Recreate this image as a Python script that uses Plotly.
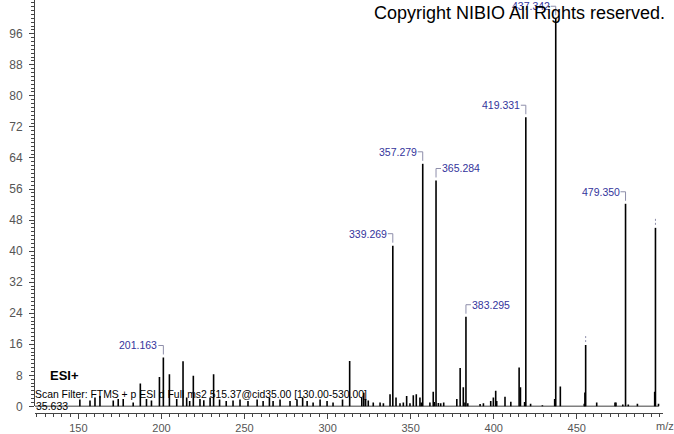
import plotly.graph_objects as go

# ---- data (m/z, relative intensity %) ----
mz = [150.9, 157.0, 160.0, 163.0, 171.0, 174.0, 177.0, 183.0, 187.3, 191.0, 194.0,
      198.8, 201.163, 204.8, 209.2, 213.0, 215.2, 217.0, 219.2, 223.2, 225.5, 229.3,
      231.4, 235.0, 239.0, 243.1, 247.3, 252.1, 257.6, 261.2, 265.0, 267.2, 271.4,
      277.4, 281.6, 285.0, 287.7, 291.3, 295.5, 299.7, 303.3, 309.0, 313.3, 320.6,
      321.8, 322.9, 324.5, 327.5, 331.6, 333.6, 337.6, 339.269, 341.2, 343.6, 345.6,
      347.6, 349.6, 351.6, 353.4, 355.6, 356.4, 357.279, 361.6, 363.6, 364.2, 365.284,
      366.7, 368.1, 369.9, 377.8, 379.8, 381.7, 382.7, 383.295, 384.4, 391.8, 393.8,
      398.2, 399.8, 401.2, 401.8, 406.8, 410.3, 415.3, 416.1, 418.6, 419.331, 422.2,
      429.3, 436.7, 437.342, 440.1, 454.5, 454.9, 455.35, 462.0, 473.0, 473.6, 477.7,
      479.350, 481.0, 486.5, 496.9, 497.36, 499.2]
intensity = [1.8, 1.5, 2.3, 2.7, 1.5, 1.9, 1.9, 1.0, 5.9, 1.9, 1.5,
             7.6, 12.6, 8.3, 1.9, 11.6, 2.3, 1.4, 7.9, 1.9, 1.6, 2.3,
             8.3, 1.8, 1.4, 1.5, 1.8, 1.4, 1.8, 1.4, 2.3, 1.4, 1.8,
             1.4, 1.8, 2.3, 1.4, 1.0, 1.8, 1.4, 1.0, 1.8, 11.7, 2.3,
             3.5, 1.9, 1.5, 1.0, 1.0, 0.8, 3.1, 41.4, 2.3, 0.8, 1.0,
             2.7, 0.8, 2.9, 3.1, 2.3, 1.0, 62.5, 1.0, 3.8, 1.1, 58.2,
             0.9, 0.8, 1.0, 1.9, 9.9, 4.9, 1.0, 23.1, 0.8, 0.6, 0.8,
             1.4, 2.3, 4.0, 1.4, 2.5, 1.2, 10.0, 4.9, 1.1, 74.5, 0.7,
             0.3, 1.9, 100.0, 5.1, 0.7, 3.6, 15.8, 1.0, 1.0, 1.0, 0.5,
             52.2, 0.5, 0.7, 3.8, 46.0, 0.7]

labeled_mz = [201.163, 339.269, 357.279, 365.284, 383.295, 419.331, 437.342, 479.350]
label_side = ["left", "left", "left", "right", "right", "left", "left", "left"]
flag_mz = [455.35, 497.36]

x_ticks = [150, 200, 250, 300, 350, 400, 450]
y_ticks = [0, 8, 16, 24, 32, 40, 48, 56, 64, 72, 80, 88, 96]

x_range = [123.9, 501.9]
y_range = [0, 104.7]

height_of = dict(zip(mz, intensity))

# stick spectrum built from the data
xs, ys = [], []
for m, h in zip(mz, intensity):
    xs += [m, m, None]
    ys += [0, h, None]

fig = go.Figure()
fig.add_trace(go.Scatter(x=xs, y=ys, mode="lines",
                         line=dict(color="black", width=1.6),
                         hoverinfo="skip", cliponaxis=True))

shapes = []
annotations = []
LABEL_BLUE = "#34349c"
BRACKET = "#8e8eaa"

# baseline
shapes.append(dict(type="line", xref="x", yref="y", x0=x_range[0], x1=499.3, y0=0, y1=0,
                   line=dict(color="black", width=1.5)))

for m, side in zip(labeled_mz, label_side):
    h = height_of[m]
    if side == "left":
        hx0, hx1 = -5, 0
        xanchor, xshift = "right", -4
    else:
        hx0, hx1 = 0, 5
        xanchor, xshift = "left", 4
    shapes.append(dict(type="line", xref="x", yref="y",
                       xsizemode="pixel", xanchor=m, x0=hx0, x1=hx1,
                       ysizemode="pixel", yanchor=h, y0=12, y1=12,
                       line=dict(color=BRACKET, width=1)))
    shapes.append(dict(type="line", xref="x", yref="y",
                       xsizemode="pixel", xanchor=m, x0=0, x1=0,
                       ysizemode="pixel", yanchor=h, y0=12, y1=3,
                       line=dict(color=BRACKET, width=1)))
    annotations.append(dict(x=m, y=h, xref="x", yref="y", text=f"{m:.3f}",
                            showarrow=False, xanchor=xanchor, yanchor="middle",
                            xshift=xshift, yshift=12,
                            font=dict(family="Arial, Liberation Sans", size=10.5, color=LABEL_BLUE)))

for m in flag_mz:
    h = height_of[m]
    shapes.append(dict(type="line", xref="x", yref="y",
                       xsizemode="pixel", xanchor=m, x0=0, x1=0,
                       ysizemode="pixel", yanchor=h, y0=3, y1=10,
                       line=dict(color=BRACKET, width=1, dash="2px,2px")))

FONT = "Arial, Liberation Sans"
annotations += [
    dict(xref="paper", yref="paper", x=1.0064, y=0.9687, xanchor="right", yanchor="middle",
         text="Copyright NIBIO All Rights reserved.", showarrow=False,
         font=dict(family=FONT, size=18, color="black")),
    dict(xref="paper", yref="paper", x=0.0202, y=0.0916, xanchor="left", yanchor="middle",
         text="<b>ESI+</b>", showarrow=False, font=dict(family=FONT, size=13, color="black")),
    dict(xref="paper", yref="paper", x=0.0, y=0.0441, xanchor="left", yanchor="middle",
         xshift=-2, text="Scan Filter: FTMS + p ESI d Full ms2 515.37@cid35.00 [130.00-530.00]",
         showarrow=False, font=dict(family=FONT, size=10.4, color="black")),
    dict(xref="paper", yref="paper", x=0.0, y=0.0161, xanchor="left", yanchor="middle",
         xshift=-1, text="35.633", showarrow=False, font=dict(family=FONT, size=10.5, color="black")),
    dict(xref="paper", yref="paper", x=1.0032, y=-0.031, xanchor="center", yanchor="middle",
         text="m/z", showarrow=False, font=dict(family=FONT, size=11, color="#555555")),
]

fig.update_layout(
    width=674, height=434,
    margin=dict(l=35, r=11, t=0, b=19),
    plot_bgcolor="white", paper_bgcolor="white",
    showlegend=False,
    shapes=shapes, annotations=annotations,
    xaxis=dict(range=x_range, tickmode="array", tickvals=x_ticks,
               ticks="outside", ticklen=5, tickcolor="#444444", tickwidth=1,
               showline=True, linecolor="#444444", linewidth=1,
               anchor="free", position=0, showgrid=False, zeroline=False,
               tickfont=dict(family=FONT, size=11, color="#555555"),
               minor=dict(tickmode="linear", tick0=0, dtick=5, ticks="outside",
                          ticklen=3, tickcolor="#444444", showgrid=False)),
    yaxis=dict(domain=[0.016, 1], range=y_range, tickmode="array", tickvals=y_ticks,
               ticks="outside", ticklen=5, tickcolor="#444444", tickwidth=1,
               showline=True, linecolor="#444444", linewidth=1,
               showgrid=False, zeroline=False, ticklabelstandoff=4,
               tickfont=dict(family=FONT, size=12, color="#555555"),
               minor=dict(tickmode="linear", tick0=0, dtick=1, ticks="outside",
                          ticklen=3, tickcolor="#444444", showgrid=False)),
)

fig.write_html("out.html", config={"displayModeBar": False},
               post_script="document.body.style.margin='0';document.body.style.padding='0';")
